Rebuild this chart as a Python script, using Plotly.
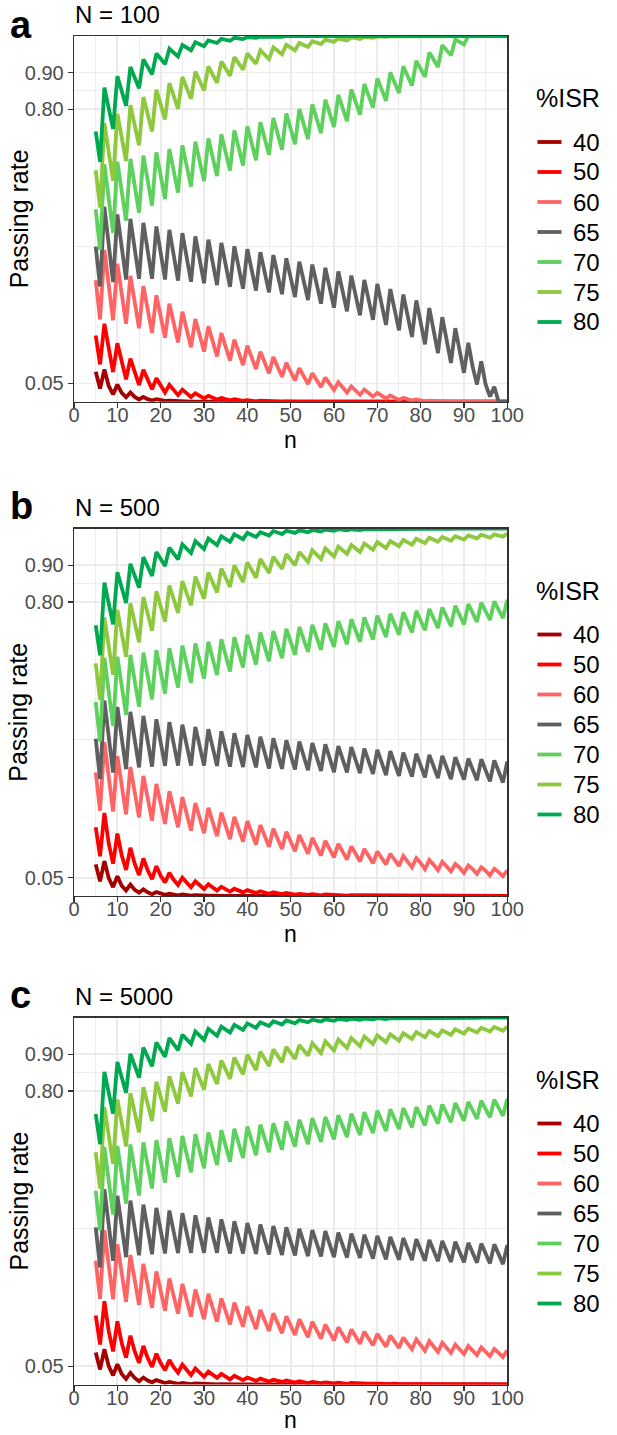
import plotly.graph_objects as go

# ---------------- data ----------------
n_values = list(range(5, 101))
isr_levels = ["40", "50", "60", "65", "70", "75", "80"]
legend_title = "%ISR"
x_tick_values = [0, 10, 20, 30, 40, 50, 60, 70, 80, 90, 100]
x_minor_values = [5, 15, 25, 35, 45, 55, 65, 75, 85, 95]
y_tick_values = [0.05, 0.80, 0.90]
y_tick_labels = ["0.05", "0.80", "0.90"]
y_minor_values = [0.425, 0.85]
panel_letters = ["a", "b", "c"]
panel_titles = ["N = 100", "N = 500", "N = 5000"]

# Panel a : N = 100
a40 = [0.082, 0.036, 0.088, 0.043, 0.020, 0.047, 0.024, 0.012, 0.025, 0.013, 0.006, 0.013,
       0.007, 0.003, 0.007, 0.004, 0.002, 0.003, 0.002, 0.001, 0.001, 0.001, 0, 0,
       0, 0, 0, 0, 0, 0, 0, 0, 0, 0, 0, 0,
       0, 0, 0, 0, 0, 0, 0, 0, 0, 0, 0, 0,
       0, 0, 0, 0, 0, 0, 0, 0, 0, 0, 0, 0,
       0, 0, 0, 0, 0, 0, 0, 0, 0, 0, 0, 0,
       0, 0, 0, 0, 0, 0, 0, 0, 0, 0, 0, 0,
       0, 0, 0, 0, 0, 0, 0, 0, 0, 0, 0, 0]
a50 = [0.181, 0.102, 0.213, 0.142, 0.081, 0.160, 0.107, 0.061, 0.118, 0.080, 0.046, 0.087,
       0.059, 0.034, 0.064, 0.043, 0.025, 0.046, 0.032, 0.018, 0.033, 0.023, 0.013, 0.023,
       0.016, 0.009, 0.016, 0.011, 0.006, 0.010, 0.007, 0.004, 0.007, 0.004, 0.002, 0.004,
       0.003, 0.001, 0.003, 0.002, 0.001, 0.001, 0.001, 0, 0.001, 0, 0, 0,
       0, 0, 0, 0, 0, 0, 0, 0, 0, 0, 0, 0,
       0, 0, 0, 0, 0, 0, 0, 0, 0, 0, 0, 0,
       0, 0, 0, 0, 0, 0, 0, 0, 0, 0, 0, 0,
       0, 0, 0, 0, 0, 0, 0, 0, 0, 0, 0, 0]
a60 = [0.332, 0.225, 0.415, 0.315, 0.223, 0.377, 0.291, 0.213, 0.344, 0.268, 0.201, 0.316,
       0.248, 0.188, 0.291, 0.229, 0.175, 0.268, 0.212, 0.162, 0.246, 0.195, 0.149, 0.226,
       0.179, 0.137, 0.206, 0.163, 0.124, 0.188, 0.148, 0.112, 0.170, 0.133, 0.100, 0.153,
       0.119, 0.089, 0.137, 0.106, 0.078, 0.122, 0.094, 0.068, 0.106, 0.081, 0.058, 0.092,
       0.069, 0.048, 0.078, 0.058, 0.040, 0.066, 0.048, 0.032, 0.053, 0.038, 0.025, 0.042,
       0.030, 0.019, 0.033, 0.022, 0.014, 0.024, 0.016, 0.009, 0.017, 0.011, 0.005, 0.011,
       0.007, 0.003, 0.006, 0.004, 0.001, 0.003, 0.002, 0, 0.001, 0, 0, 0,
       0, 0, 0, 0, 0, 0, 0, 0, 0, 0, 0, 0]
a65 = [0.424, 0.315, 0.533, 0.430, 0.327, 0.512, 0.423, 0.334, 0.500, 0.418, 0.336, 0.489,
       0.412, 0.336, 0.479, 0.406, 0.334, 0.470, 0.400, 0.331, 0.461, 0.394, 0.328, 0.452,
       0.388, 0.324, 0.443, 0.381, 0.319, 0.434, 0.374, 0.314, 0.425, 0.367, 0.309, 0.417,
       0.360, 0.304, 0.409, 0.354, 0.299, 0.401, 0.347, 0.294, 0.392, 0.339, 0.286, 0.383,
       0.330, 0.278, 0.375, 0.321, 0.268, 0.366, 0.311, 0.257, 0.356, 0.301, 0.247, 0.345,
       0.290, 0.236, 0.333, 0.278, 0.224, 0.322, 0.266, 0.210, 0.308, 0.251, 0.195, 0.293,
       0.235, 0.177, 0.277, 0.217, 0.157, 0.256, 0.195, 0.133, 0.231, 0.168, 0.106, 0.201,
       0.136, 0.079, 0.161, 0.096, 0.047, 0.110, 0.047, 0.014, 0.041, 0, 0, 0]
a70 = [0.526, 0.415, 0.649, 0.556, 0.462, 0.656, 0.576, 0.495, 0.664, 0.590, 0.517, 0.673,
       0.605, 0.536, 0.682, 0.618, 0.554, 0.691, 0.632, 0.572, 0.701, 0.645, 0.588, 0.711,
       0.657, 0.603, 0.720, 0.669, 0.617, 0.731, 0.682, 0.632, 0.742, 0.694, 0.646, 0.753,
       0.707, 0.660, 0.764, 0.720, 0.675, 0.776, 0.733, 0.689, 0.788, 0.746, 0.704, 0.800,
       0.759, 0.718, 0.813, 0.774, 0.734, 0.826, 0.789, 0.751, 0.839, 0.803, 0.767, 0.854,
       0.820, 0.785, 0.869, 0.837, 0.804, 0.884, 0.854, 0.823, 0.900, 0.872, 0.844, 0.917,
       0.891, 0.864, 0.932, 0.910, 0.888, 0.955, 0.935, 0.915, 0.975, 0.961, 0.947, 0.990,
       0.984, 0.977, 1, 1, 1, 1, 1, 1, 1, 1, 1, 1]
a75 = [0.633, 0.531, 0.762, 0.683, 0.604, 0.787, 0.722, 0.658, 0.811, 0.756, 0.701, 0.833,
       0.786, 0.739, 0.853, 0.812, 0.772, 0.871, 0.836, 0.801, 0.888, 0.858, 0.828, 0.903,
       0.877, 0.851, 0.917, 0.894, 0.872, 0.930, 0.910, 0.891, 0.942, 0.925, 0.908, 0.952,
       0.938, 0.924, 0.961, 0.949, 0.937, 0.969, 0.959, 0.950, 0.976, 0.968, 0.961, 0.981,
       0.975, 0.970, 0.986, 0.982, 0.978, 0.990, 0.987, 0.984, 0.993, 0.990, 0.988, 0.996,
       0.994, 0.992, 0.997, 0.996, 0.995, 0.999, 0.998, 0.998, 0.999, 0.999, 1, 1,
       1, 1, 1, 1, 1, 1, 1, 1, 1, 1, 1, 1,
       1, 1, 1, 1, 1, 1, 1, 1, 1, 1, 1, 1]
a80 = [0.739, 0.656, 0.859, 0.803, 0.746, 0.890, 0.850, 0.809, 0.915, 0.886, 0.857, 0.936,
       0.916, 0.895, 0.952, 0.938, 0.923, 0.965, 0.955, 0.944, 0.975, 0.968, 0.961, 0.983,
       0.978, 0.972, 0.988, 0.985, 0.981, 0.992, 0.990, 0.987, 0.995, 0.994, 0.992, 0.997,
       0.996, 0.995, 0.998, 0.998, 0.997, 0.999, 0.999, 0.998, 1, 1, 0.999, 1,
       1, 1, 1, 1, 1, 1, 1, 1, 1, 1, 1, 1,
       1, 1, 1, 1, 1, 1, 1, 1, 1, 1, 1, 1,
       1, 1, 1, 1, 1, 1, 1, 1, 1, 1, 1, 1,
       1, 1, 1, 1, 1, 1, 1, 1, 1, 1, 1, 1]

# Panel b : N = 500
b40 = [0.086, 0.040, 0.095, 0.049, 0.024, 0.054, 0.028, 0.015, 0.031, 0.017, 0.009, 0.018,
       0.010, 0.005, 0.011, 0.006, 0.003, 0.006, 0.004, 0.002, 0.004, 0.002, 0.001, 0.002,
       0.001, 0.001, 0.001, 0.001, 0, 0.001, 0, 0, 0, 0, 0, 0,
       0, 0, 0, 0, 0, 0, 0, 0, 0, 0, 0, 0,
       0, 0, 0, 0, 0, 0, 0, 0, 0, 0, 0, 0,
       0, 0, 0, 0, 0, 0, 0, 0, 0, 0, 0, 0,
       0, 0, 0, 0, 0, 0, 0, 0, 0, 0, 0, 0,
       0, 0, 0, 0, 0, 0, 0, 0, 0, 0, 0, 0]
b50 = [0.187, 0.108, 0.226, 0.143, 0.088, 0.170, 0.111, 0.071, 0.131, 0.088, 0.057, 0.102,
       0.070, 0.046, 0.081, 0.055, 0.037, 0.063, 0.044, 0.030, 0.050, 0.035, 0.024, 0.040,
       0.028, 0.019, 0.032, 0.022, 0.015, 0.025, 0.018, 0.012, 0.020, 0.014, 0.010, 0.016,
       0.011, 0.008, 0.013, 0.009, 0.006, 0.010, 0.007, 0.005, 0.008, 0.006, 0.004, 0.006,
       0.004, 0.003, 0.005, 0.003, 0.002, 0.004, 0.003, 0.002, 0.003, 0.002, 0.001, 0.002,
       0.002, 0.001, 0.002, 0.001, 0.001, 0.001, 0.001, 0, 0.001, 0.001, 0, 0.001,
       0, 0, 0, 0, 0, 0, 0, 0, 0, 0, 0, 0,
       0, 0, 0, 0, 0, 0, 0, 0, 0, 0, 0, 0]
b60 = [0.336, 0.232, 0.419, 0.317, 0.230, 0.381, 0.297, 0.222, 0.351, 0.279, 0.214, 0.327,
       0.264, 0.205, 0.305, 0.250, 0.196, 0.285, 0.236, 0.187, 0.269, 0.224, 0.178, 0.253,
       0.212, 0.171, 0.240, 0.202, 0.163, 0.227, 0.192, 0.155, 0.215, 0.182, 0.148, 0.204,
       0.173, 0.140, 0.193, 0.165, 0.134, 0.183, 0.157, 0.128, 0.175, 0.150, 0.122, 0.166,
       0.142, 0.115, 0.158, 0.135, 0.110, 0.150, 0.129, 0.105, 0.142, 0.122, 0.099, 0.135,
       0.116, 0.094, 0.128, 0.110, 0.089, 0.121, 0.104, 0.086, 0.115, 0.100, 0.082, 0.109,
       0.095, 0.078, 0.103, 0.090, 0.073, 0.098, 0.085, 0.070, 0.093, 0.081, 0.067, 0.087,
       0.077, 0.063, 0.083, 0.073, 0.060, 0.078, 0.069, 0.056, 0.074, 0.065, 0.054, 0.070]
b65 = [0.428, 0.318, 0.532, 0.430, 0.336, 0.514, 0.429, 0.345, 0.501, 0.425, 0.350, 0.490,
       0.421, 0.352, 0.481, 0.417, 0.354, 0.473, 0.414, 0.355, 0.466, 0.410, 0.355, 0.460,
       0.407, 0.355, 0.454, 0.404, 0.354, 0.448, 0.400, 0.352, 0.443, 0.397, 0.351, 0.438,
       0.394, 0.350, 0.433, 0.390, 0.347, 0.429, 0.387, 0.346, 0.424, 0.384, 0.344, 0.420,
       0.381, 0.342, 0.416, 0.378, 0.340, 0.413, 0.375, 0.337, 0.408, 0.372, 0.336, 0.405,
       0.369, 0.334, 0.401, 0.366, 0.332, 0.398, 0.363, 0.329, 0.394, 0.360, 0.327, 0.390,
       0.357, 0.325, 0.387, 0.355, 0.323, 0.384, 0.352, 0.321, 0.381, 0.349, 0.318, 0.378,
       0.347, 0.317, 0.374, 0.344, 0.315, 0.372, 0.342, 0.312, 0.369, 0.339, 0.309, 0.366]
b70 = [0.528, 0.420, 0.648, 0.553, 0.463, 0.651, 0.572, 0.493, 0.656, 0.586, 0.515, 0.662,
       0.599, 0.535, 0.669, 0.610, 0.551, 0.674, 0.621, 0.567, 0.681, 0.631, 0.580, 0.687,
       0.640, 0.592, 0.692, 0.647, 0.601, 0.699, 0.655, 0.611, 0.704, 0.663, 0.622, 0.711,
       0.671, 0.630, 0.717, 0.678, 0.639, 0.721, 0.684, 0.647, 0.727, 0.692, 0.656, 0.732,
       0.698, 0.664, 0.738, 0.704, 0.670, 0.742, 0.710, 0.678, 0.748, 0.717, 0.685, 0.753,
       0.723, 0.692, 0.758, 0.728, 0.698, 0.763, 0.734, 0.705, 0.768, 0.740, 0.711, 0.772,
       0.745, 0.717, 0.776, 0.750, 0.723, 0.781, 0.755, 0.729, 0.785, 0.760, 0.734, 0.790,
       0.765, 0.739, 0.794, 0.770, 0.746, 0.798, 0.775, 0.751, 0.802, 0.779, 0.756, 0.806]
b75 = [0.633, 0.534, 0.758, 0.680, 0.602, 0.778, 0.715, 0.651, 0.797, 0.744, 0.690, 0.814,
       0.768, 0.722, 0.829, 0.788, 0.747, 0.845, 0.808, 0.770, 0.857, 0.824, 0.791, 0.869,
       0.839, 0.809, 0.880, 0.853, 0.826, 0.891, 0.866, 0.841, 0.900, 0.877, 0.854, 0.908,
       0.887, 0.866, 0.917, 0.898, 0.879, 0.923, 0.907, 0.890, 0.930, 0.915, 0.900, 0.936,
       0.923, 0.909, 0.941, 0.929, 0.917, 0.946, 0.935, 0.924, 0.951, 0.941, 0.931, 0.955,
       0.946, 0.936, 0.959, 0.951, 0.942, 0.963, 0.955, 0.947, 0.966, 0.959, 0.952, 0.969,
       0.963, 0.956, 0.972, 0.966, 0.960, 0.975, 0.970, 0.964, 0.977, 0.972, 0.967, 0.979,
       0.975, 0.970, 0.981, 0.977, 0.973, 0.983, 0.979, 0.975, 0.984, 0.981, 0.978, 0.986]
b80 = [0.737, 0.655, 0.853, 0.797, 0.739, 0.881, 0.839, 0.797, 0.904, 0.871, 0.839, 0.922,
       0.896, 0.871, 0.936, 0.917, 0.898, 0.948, 0.932, 0.916, 0.957, 0.945, 0.933, 0.966,
       0.955, 0.944, 0.973, 0.964, 0.955, 0.979, 0.971, 0.964, 0.984, 0.978, 0.971, 0.988,
       0.982, 0.977, 0.990, 0.986, 0.981, 0.993, 0.989, 0.985, 0.994, 0.991, 0.988, 0.995,
       0.993, 0.990, 0.996, 0.994, 0.992, 0.997, 0.996, 0.994, 0.998, 0.997, 0.995, 0.998,
       0.997, 0.996, 0.998, 0.998, 0.997, 0.999, 0.998, 0.997, 0.999, 0.998, 0.998, 0.999,
       0.999, 0.998, 0.999, 0.999, 0.999, 1, 0.999, 0.999, 1, 0.999, 0.999, 1,
       1, 0.999, 1, 1, 1, 1, 1, 1, 1, 1, 1, 1]

# Panel c : N = 5000
c40 = [0.087, 0.041, 0.096, 0.050, 0.025, 0.055, 0.029, 0.015, 0.032, 0.018, 0.009, 0.019,
       0.011, 0.006, 0.012, 0.007, 0.004, 0.007, 0.004, 0.002, 0.004, 0.003, 0.001, 0.003,
       0.002, 0.001, 0.002, 0.001, 0, 0.001, 0, 0, 0, 0, 0, 0,
       0, 0, 0, 0, 0, 0, 0, 0, 0, 0, 0, 0,
       0, 0, 0, 0, 0, 0, 0, 0, 0, 0, 0, 0,
       0, 0, 0, 0, 0, 0, 0, 0, 0, 0, 0, 0,
       0, 0, 0, 0, 0, 0, 0, 0, 0, 0, 0, 0,
       0, 0, 0, 0, 0, 0, 0, 0, 0, 0, 0, 0]
c50 = [0.188, 0.109, 0.227, 0.145, 0.090, 0.172, 0.113, 0.073, 0.133, 0.090, 0.059, 0.105,
       0.072, 0.048, 0.084, 0.058, 0.039, 0.067, 0.047, 0.032, 0.054, 0.038, 0.026, 0.044,
       0.031, 0.021, 0.035, 0.025, 0.018, 0.029, 0.020, 0.014, 0.024, 0.017, 0.012, 0.019,
       0.014, 0.010, 0.016, 0.011, 0.008, 0.013, 0.009, 0.007, 0.011, 0.008, 0.005, 0.009,
       0.006, 0.004, 0.007, 0.005, 0.004, 0.006, 0.004, 0.003, 0.005, 0.004, 0.002, 0.004,
       0.003, 0.002, 0.003, 0.002, 0.002, 0.003, 0.002, 0.001, 0.002, 0.002, 0.001, 0.002,
       0.001, 0.001, 0.002, 0.001, 0.001, 0.001, 0.001, 0.001, 0.001, 0.001, 0, 0.001,
       0.001, 0, 0.001, 0, 0, 0.001, 0, 0, 0, 0, 0, 0]
c60 = [0.337, 0.233, 0.420, 0.318, 0.232, 0.382, 0.298, 0.225, 0.353, 0.280, 0.217, 0.329,
       0.265, 0.209, 0.308, 0.250, 0.201, 0.289, 0.238, 0.193, 0.274, 0.227, 0.185, 0.259,
       0.216, 0.178, 0.247, 0.206, 0.171, 0.235, 0.197, 0.164, 0.223, 0.189, 0.158, 0.213,
       0.180, 0.151, 0.203, 0.173, 0.146, 0.194, 0.166, 0.140, 0.186, 0.159, 0.135, 0.178,
       0.153, 0.129, 0.171, 0.147, 0.125, 0.163, 0.141, 0.120, 0.156, 0.135, 0.115, 0.150,
       0.130, 0.111, 0.144, 0.125, 0.107, 0.138, 0.120, 0.103, 0.133, 0.116, 0.100, 0.128,
       0.111, 0.096, 0.123, 0.107, 0.092, 0.118, 0.103, 0.089, 0.114, 0.099, 0.086, 0.109,
       0.095, 0.083, 0.105, 0.092, 0.080, 0.101, 0.088, 0.077, 0.097, 0.085, 0.075, 0.093]
c65 = [0.428, 0.319, 0.532, 0.430, 0.337, 0.514, 0.430, 0.347, 0.501, 0.426, 0.352, 0.490,
       0.422, 0.355, 0.481, 0.419, 0.357, 0.474, 0.416, 0.358, 0.467, 0.413, 0.359, 0.461,
       0.410, 0.359, 0.455, 0.407, 0.359, 0.450, 0.403, 0.357, 0.445, 0.401, 0.357, 0.440,
       0.398, 0.356, 0.436, 0.395, 0.354, 0.432, 0.392, 0.353, 0.428, 0.390, 0.352, 0.424,
       0.387, 0.350, 0.421, 0.385, 0.349, 0.418, 0.382, 0.347, 0.414, 0.380, 0.346, 0.411,
       0.378, 0.345, 0.408, 0.375, 0.343, 0.405, 0.373, 0.341, 0.402, 0.371, 0.340, 0.399,
       0.369, 0.339, 0.396, 0.366, 0.337, 0.394, 0.365, 0.336, 0.391, 0.362, 0.334, 0.389,
       0.361, 0.333, 0.386, 0.359, 0.332, 0.384, 0.357, 0.330, 0.382, 0.355, 0.328, 0.380]
c70 = [0.528, 0.420, 0.647, 0.555, 0.463, 0.650, 0.572, 0.493, 0.654, 0.585, 0.515, 0.660,
       0.597, 0.534, 0.666, 0.608, 0.550, 0.671, 0.618, 0.565, 0.677, 0.628, 0.578, 0.682,
       0.636, 0.589, 0.687, 0.643, 0.598, 0.693, 0.650, 0.607, 0.697, 0.657, 0.617, 0.703,
       0.664, 0.625, 0.708, 0.671, 0.633, 0.712, 0.676, 0.640, 0.717, 0.683, 0.648, 0.721,
       0.688, 0.655, 0.726, 0.694, 0.661, 0.729, 0.699, 0.668, 0.734, 0.704, 0.674, 0.738,
       0.709, 0.680, 0.742, 0.714, 0.685, 0.746, 0.719, 0.691, 0.750, 0.723, 0.696, 0.753,
       0.727, 0.701, 0.756, 0.731, 0.706, 0.760, 0.736, 0.711, 0.763, 0.739, 0.715, 0.767,
       0.743, 0.719, 0.770, 0.747, 0.724, 0.773, 0.751, 0.728, 0.776, 0.754, 0.732, 0.779]
c75 = [0.633, 0.534, 0.756, 0.679, 0.601, 0.776, 0.713, 0.649, 0.794, 0.741, 0.687, 0.810,
       0.764, 0.718, 0.825, 0.784, 0.743, 0.840, 0.803, 0.765, 0.851, 0.818, 0.785, 0.862,
       0.833, 0.803, 0.873, 0.846, 0.819, 0.883, 0.858, 0.833, 0.891, 0.868, 0.845, 0.899,
       0.878, 0.857, 0.907, 0.888, 0.868, 0.913, 0.896, 0.878, 0.920, 0.904, 0.887, 0.925,
       0.911, 0.896, 0.930, 0.917, 0.903, 0.935, 0.923, 0.910, 0.940, 0.929, 0.917, 0.944,
       0.933, 0.922, 0.948, 0.938, 0.928, 0.951, 0.942, 0.933, 0.954, 0.946, 0.937, 0.957,
       0.950, 0.942, 0.960, 0.953, 0.946, 0.963, 0.956, 0.949, 0.965, 0.959, 0.953, 0.968,
       0.962, 0.956, 0.970, 0.965, 0.959, 0.972, 0.967, 0.962, 0.974, 0.969, 0.964, 0.975]
c80 = [0.737, 0.655, 0.852, 0.797, 0.738, 0.879, 0.837, 0.795, 0.901, 0.869, 0.836, 0.918,
       0.893, 0.867, 0.932, 0.913, 0.893, 0.944, 0.928, 0.911, 0.953, 0.941, 0.928, 0.962,
       0.951, 0.939, 0.969, 0.960, 0.950, 0.975, 0.967, 0.959, 0.980, 0.973, 0.966, 0.984,
       0.978, 0.972, 0.987, 0.982, 0.977, 0.990, 0.986, 0.981, 0.992, 0.988, 0.984, 0.993,
       0.990, 0.987, 0.994, 0.992, 0.989, 0.995, 0.993, 0.991, 0.996, 0.995, 0.993, 0.997,
       0.996, 0.994, 0.997, 0.996, 0.995, 0.998, 0.997, 0.996, 0.998, 0.998, 0.997, 0.998,
       0.998, 0.997, 0.999, 0.998, 0.998, 0.999, 0.999, 0.998, 0.999, 0.999, 0.998, 0.999,
       0.999, 0.999, 0.999, 0.999, 0.999, 1, 1, 0.999, 1, 1, 0.999, 1]

panel_series = [
    [a40, a50, a60, a65, a70, a75, a80],
    [b40, b50, b60, b65, b70, b75, b80],
    [c40, c50, c60, c65, c70, c75, c80],
]

bad = [(i, j, len(s)) for i, row in enumerate(panel_series) for j, s in enumerate(row) if len(s) != len(n_values)]
if bad:
    raise ValueError("length mismatch: %s" % bad)

# ---------------- styling ----------------
W, H = 617, 1435
FONT = "Liberation Sans, Arial, Helvetica, sans-serif"
colors = {
    "40": "#A50000",
    "50": "#FF0000",
    "60": "#FF6464",
    "65": "#5F5F5F",
    "70": "#5DD05D",
    "75": "#8DC83F",
    "80": "#00A94F",
}
LINE_W = 3.8
PLOT_LEFT, PLOT_RIGHT = 70.7, 520.7
panel_tops = [36.0, 528.5, 1017.5]
panel_bottoms = [401.7, 896.0, 1384.5]
letter_baselines = [35.0, 516.0, 1005.0]
n_title_baselines = [446.7, 941.0, 1426.9]
legend_title_y = [98.0, 590.5, 1079.5]
LEGEND_STEP = 30.0
LEGEND_FIRST = 44.0   # first key below the legend title


def fx(px):
    return px / W


def fy(px):
    return 1 - px / H


fig = go.Figure()
annotations = []
shapes = []
layout_extra = {}

for i in range(3):
    suf = "" if i == 0 else str(i + 1)
    top, bottom = panel_tops[i], panel_bottoms[i]
    for lvl, ys in zip(isr_levels, panel_series[i]):
        fig.add_trace(go.Scatter(
            x=n_values, y=ys, mode="lines", name=lvl,
            line=dict(color=colors[lvl], width=LINE_W),
            xaxis="x" + suf, yaxis="y" + suf,
            showlegend=False, hoverinfo="skip",
        ))

    grid_major = "#EBEBEB"
    layout_extra["xaxis" + suf] = dict(
        domain=[fx(PLOT_LEFT), fx(PLOT_RIGHT)], range=[0, 100], anchor="y" + suf,
        tickmode="array", tickvals=x_tick_values, ticktext=[str(v) for v in x_tick_values],
        ticks="outside", ticklen=5, tickwidth=1.2, tickcolor="#333333",
        ticklabelstandoff=-10,
        showline=True, mirror=True, linecolor="#333333", linewidth=1.3,
        showgrid=True, gridcolor=grid_major, gridwidth=1.8, zeroline=False,
        minor=dict(tickmode="array", tickvals=x_minor_values, showgrid=True,
                   gridcolor=grid_major, gridwidth=0.9, ticks=""),
        tickfont=dict(family=FONT, size=20, color="#4D4D4D"),
        fixedrange=True,
    )
    layout_extra["yaxis" + suf] = dict(
        domain=[fy(bottom), fy(top)], range=[0, 1], anchor="x" + suf,
        tickmode="array", tickvals=y_tick_values, ticktext=y_tick_labels,
        ticks="outside", ticklen=5, tickwidth=1.2, tickcolor="#333333",
        showline=True, mirror=True, linecolor="#333333", linewidth=1.3,
        showgrid=True, gridcolor=grid_major, gridwidth=1.8, zeroline=False,
        minor=dict(tickmode="array", tickvals=y_minor_values, showgrid=True,
                   gridcolor=grid_major, gridwidth=0.9, ticks=""),
        tickfont=dict(family=FONT, size=20, color="#4D4D4D"),
        fixedrange=True,
    )

    # ---- legend (drawn with shapes + text) ----
    ty = legend_title_y[i]
    annotations.append(dict(
        text=legend_title, x=fx(548), xanchor="left", y=fy(ty), yanchor="middle",
        xref="paper", yref="paper", showarrow=False,
        font=dict(family=FONT, size=25, color="black"),
    ))
    for k, lvl in enumerate(isr_levels):
        yc = ty + LEGEND_FIRST + k * LEGEND_STEP
        shapes.append(dict(
            type="line", xref="paper", yref="paper",
            x0=fx(552), x1=fx(577), y0=fy(yc), y1=fy(yc),
            line=dict(color=colors[lvl], width=LINE_W),
        ))
        annotations.append(dict(
            text=lvl, x=fx(587), xanchor="left", y=fy(yc), yanchor="middle",
            xref="paper", yref="paper", showarrow=False,
            font=dict(family=FONT, size=24, color="black"),
        ))

    # panel letter
    annotations.append(dict(
        text="<b>%s</b>" % panel_letters[i], x=fx(2), xanchor="left",
        y=fy(letter_baselines[i] + 0.307 * 38 + 1), yanchor="bottom",
        xref="paper", yref="paper", showarrow=False,
        font=dict(family=FONT, size=38, color="black"),
    ))
    # panel title
    annotations.append(dict(
        text=panel_titles[i], x=fx(70), xanchor="left",
        y=fy(top - 14 + 0.307 * 24 + 1), yanchor="bottom",
        xref="paper", yref="paper", showarrow=False,
        font=dict(family=FONT, size=24, color="black"),
    ))
    # x axis title
    annotations.append(dict(
        text="n", x=fx((PLOT_LEFT + PLOT_RIGHT) / 2), xanchor="center",
        y=fy(n_title_baselines[i] + 0.307 * 23 + 1), yanchor="bottom",
        xref="paper", yref="paper", showarrow=False,
        font=dict(family=FONT, size=23, color="black"),
    ))
    # y axis title
    annotations.append(dict(
        text="Passing rate", x=fx(13), xanchor="center",
        y=fy((top + bottom) / 2), yanchor="middle", textangle=-90,
        xref="paper", yref="paper", showarrow=False,
        font=dict(family=FONT, size=25, color="black"),
    ))

fig.update_layout(
    width=W, height=H, autosize=False,
    margin=dict(l=0, r=0, t=0, b=0),
    paper_bgcolor="white", plot_bgcolor="white",
    font=dict(family=FONT),
    showlegend=False,
    annotations=annotations,
    shapes=shapes,
    **layout_extra,
)

fig.write_html(
    "out.html",
    config={"displayModeBar": False, "staticPlot": True},
    post_script="document.body.style.margin='0';document.body.style.padding='0';",
)
